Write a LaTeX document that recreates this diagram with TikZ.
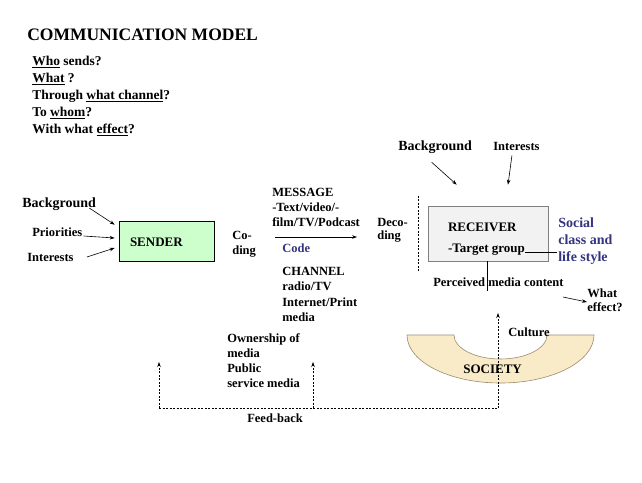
\documentclass[tikz,border=0pt]{standalone}
\usepackage{fontspec}
\setmainfont{Liberation Serif}
\usetikzlibrary{calc,arrows.meta}
\definecolor{senderfill}{HTML}{CCFFCC}
\definecolor{receiverfill}{HTML}{F2F2F2}
\definecolor{receiverline}{HTML}{7F7F7F}
\definecolor{societyfill}{HTML}{F9EBC8}
\definecolor{societyline}{HTML}{9C8B6E}
\definecolor{socialblue}{HTML}{333380}
\tikzset{
	txt/.style={font=\bfseries\fontsize{12.5}{15}\selectfont,inner sep=0pt,align=left,anchor=west},
	bigtxt/.style={txt,font=\bfseries\fontsize{14}{17}\selectfont},
	boxtxt/.style={txt,font=\bfseries\fontsize{13}{15}\selectfont},
	fb/.style={dash pattern=on 2pt off 1.5pt},
}

\begin{document}
\begin{tikzpicture}[x=1pt,y=-1pt,line width=0.6pt,>={Stealth[length=5pt,width=3.5pt]}]
			\useasboundingbox (0,0) rectangle (642,482);
			
			\node[txt,font=\bfseries\fontsize{17.5}{20}\selectfont] (title) at (27,35) {COMMUNICATION MODEL};
			\node[txt,font=\bfseries\fontsize{13.5}{17}\selectfont] (questions) at (32,96) {\underline{Who} sends?\\\underline{What} ?\\Through \underline{what channel}?\\To \underline{whom}?\\With what \underline{effect}?};
			
			%sender
			\node[draw=black,fill=senderfill,minimum width=95pt,minimum height=40pt] (sender) at (166.5,241) {};
			\node[boxtxt] (sendertxt) at ($(sender.west)+(11,1)$) {SENDER};
			\node[bigtxt] (bgS) at (22,204) {Background};
			\node[txt] (prio) at (32,232) {Priorities};
			\node[txt] (intS) at (27,257) {Interests};
			
			\draw[->] ($(bgS.east)+(-7,4)$) -- ($(sender.north west)+(-4,4)$);
			\draw[->] ($(prio.east)+(1,4)$) -- ($(sender.west)+(-4,-3)$);
			\draw[->] ($(intS.east)+(13,0)$) -- ($(sender.west)+(-4,7)$);
			
			%message
			\node[txt] (coding) at (232,244) {Co-\\ding};
			\node[txt] (message) at (272,207) {MESSAGE\\-Text/video/-\\film/TV/Podcast};
			\node[txt,text=socialblue] (code) at (282,248) {Code};
			\node[txt,font=\bfseries\fontsize{12.5}{15.5}\selectfont] (channel) at (282,294.5) {CHANNEL\\radio/TV\\Internet/Print\\media};
			\node[txt,font=\bfseries\fontsize{12.5}{13.5}\selectfont] (decoding) at (377,230.5) {Deco-\\ding};
			
			\draw[->] ($(message.west)+(3,30)$) -- ($(message.east)+(-3,30)$);
			\draw[fb] ($(decoding.east)+(10,-35)$) -- ($(decoding.east)+(10,40)$);
			
			%receiver
			\node[draw=receiverline,fill=receiverfill,minimum width=120pt,minimum height=55pt] (receiver) at (488,233.5) {};
			\node[boxtxt] (receivertxt) at ($(receiver.west)+(20,-6.5)$) {RECEIVER};
			\node[boxtxt] (target) at ($(receiver.west)+(20,16.5)$) {-Target group};
			\node[bigtxt,text=socialblue] (social) at (558,241) {Social\\class and\\life style};
			\node[bigtxt] (bgR) at (398,147) {Background};
			\node[txt] (intR) at (493,146) {Interests};
			\node[txt] (perceived) at (433,282) {Perceived media content};
			\node[txt,font=\bfseries\fontsize{12.5}{14}\selectfont] (effect) at (587,300) {What\\effect?};
			
			\draw[->] ($(bgR.south)+(-3.5,8.5)$) -- ($(receiver.north west)+(29,-21)$);
			\draw[->] ($(intR.south)+(-4.5,5)$) -- ($(receiver.north)+(20,-21)$);
			\draw ($(target.east)+(0,2)$) -- ($(target.east -| social.west)+(-1,2)$);
			\draw ($(receiver.south)+(-1,0)$) -- ($(receiver.south)+(-1,30)$);
			\draw[->] ($(perceived.east)+(-1,15)$) -- ($(effect.west)+(0,2)$);
			
			%society
			\coordinate (soc) at (500.5,335);
			\draw[draw=societyline,fill=societyfill] ($(soc)+(-93.5,0)$) arc[start angle=180,end angle=360,x radius=93.5pt,y radius=48pt] -- ($(soc)+(46.5,0)$) arc[start angle=0,end angle=-180,x radius=46.5pt,y radius=24pt] -- cycle;
			\node[boxtxt] (society) at (463,369) {SOCIETY};
			\node[txt] (culture) at (508,332) {Culture};
			
			%feed-back
			\coordinate (fbL) at (159,408);
			\coordinate (fbM) at (313,408);
			\coordinate (fbR) at (498,408);
			\draw[fb] (fbL) -- (fbR);
			\draw[fb,->] (fbL) -- ($(fbL)+(0,-46)$);
			\draw[fb,->] (fbM) -- ($(fbM)+(0,-46)$);
			\draw[fb,->] (fbR) -- ($(fbR)+(0,-95)$);
			\node[txt] (feedback) at (247,418) {Feed-back};
			\node[txt] (owner) at (227,360.5) {Ownership of\\media\\Public\\service media};
		\end{tikzpicture}
\end{document}
